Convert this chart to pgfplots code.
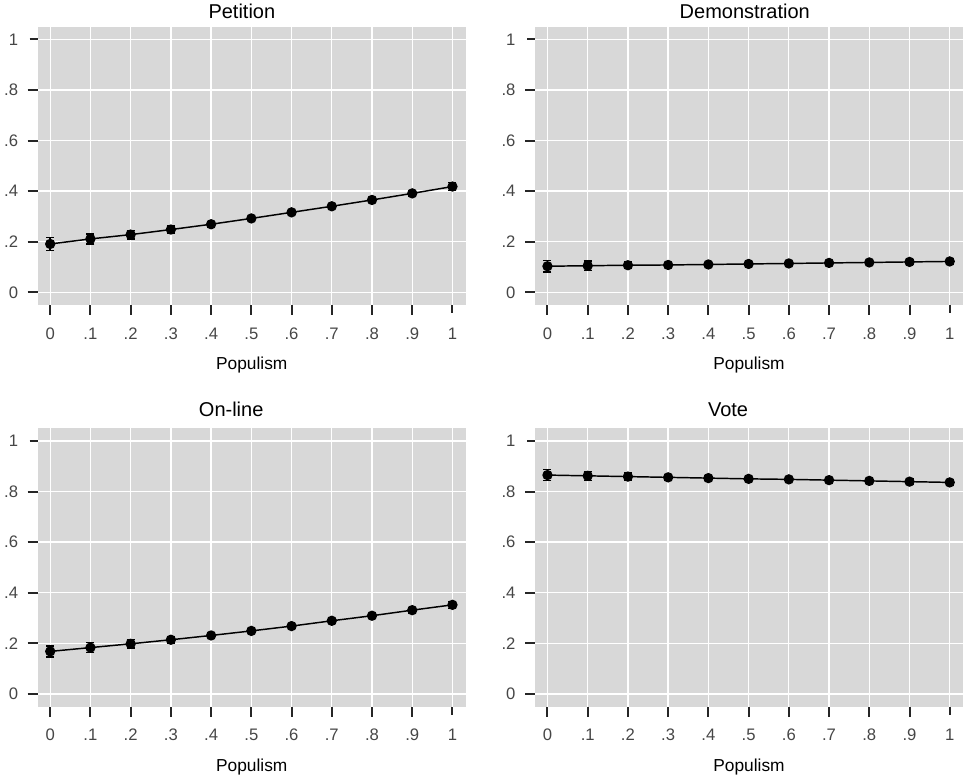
\documentclass[border=0pt]{standalone}
\usepackage{fontspec}
\setmainfont{Liberation Sans}
\usepackage{pgfplots}
\usepackage{pgfplotstable}
\pgfplotsset{compat=1.18}

\definecolor{panelbg}{RGB}{216,216,216}
\definecolor{ticktext}{RGB}{70,70,70}

% predicted share, with half-width of the interval
\pgfplotstableread{
x y e
0 0.191 0.026
0.1 0.211 0.020
0.2 0.228 0.017
0.3 0.248 0.014
0.4 0.269 0.010
0.5 0.292 0.008
0.6 0.316 0.007
0.7 0.340 0.008
0.8 0.365 0.009
0.9 0.391 0.011
1 0.418 0.015
}\petition

\pgfplotstableread{
x y e
0 0.103 0.022
0.1 0.105 0.018
0.2 0.107 0.014
0.3 0.108 0.010
0.4 0.110 0.007
0.5 0.112 0.006
0.6 0.114 0.006
0.7 0.116 0.006
0.8 0.118 0.007
0.9 0.120 0.008
1 0.122 0.010
}\demonstration

\pgfplotstableread{
x y e
0 0.168 0.022
0.1 0.183 0.020
0.2 0.198 0.016
0.3 0.214 0.012
0.4 0.231 0.009
0.5 0.249 0.007
0.6 0.268 0.007
0.7 0.289 0.008
0.8 0.309 0.009
0.9 0.331 0.011
1 0.352 0.014
}\online

\pgfplotstableread{
x y e
0 0.865 0.022
0.1 0.862 0.018
0.2 0.859 0.014
0.3 0.856 0.010
0.4 0.853 0.008
0.5 0.850 0.006
0.6 0.848 0.006
0.7 0.845 0.007
0.8 0.842 0.008
0.9 0.839 0.010
1 0.836 0.012
}\vote

\pgfplotsset{
  panel/.style={
    scale only axis, width=321pt, height=208.7pt,
    xmin=-0.031, xmax=1.033, ymin=-0.05, ymax=1.05,
    axis background/.style={fill=panelbg},
    axis line style={draw=none},
    xtick={0,0.1,0.2,0.3,0.4,0.5,0.6,0.7,0.8,0.9,1},
    xticklabels={0,.1,.2,.3,.4,.5,.6,.7,.8,.9,1},
    ytick={0,0.2,0.4,0.6,0.8,1},
    yticklabels={0,.2,.4,.6,.8,1},
    xtick pos=bottom, ytick pos=left,
    tick align=outside, major tick length=7.5pt,
    tick style={line width=1.5pt, draw=black!85, shorten <=1.5pt},
    grid=major, major grid style={white, line width=1pt},
    ticklabel style={font=\fontsize{12.5}{14}\selectfont, text=ticktext},
    xticklabel style={anchor=base, inner sep=0pt, yshift=-18.3pt},
    yticklabel style={anchor=east, inner sep=0pt, xshift=-7pt},
    xlabel=Populism,
    xlabel style={font=\fontsize{13}{15}\selectfont, at={(axis description cs:0.5,0)},
      anchor=base, inner sep=0pt, yshift=-48.5pt},
    title style={font=\fontsize{15}{18}\selectfont, anchor=base, inner sep=0pt},
  },
  curve/.style={black, line width=1.1pt, mark=*, mark size=3.3pt, mark options={solid},
    error bars/.cd, y dir=both, y explicit,
    error bar style={line width=1.1pt},
    error mark options={rotate=90, line width=1.1pt, mark size=3pt}},
}

\begin{document}
\begin{tikzpicture}
\path[use as bounding box] (0,0) rectangle (725.25pt,-583.5pt);

\begin{axis}[panel, at={(28.3pt,-20pt)}, anchor=north west,
  title={Petition}, title style={at={(axis description cs:0.477,1)}, yshift=0.3pt}]
\addplot[curve] table[x=x, y=y, y error=e] {\petition};
\end{axis}

\begin{axis}[panel, at={(401.25pt,-20pt)}, anchor=north west,
  title={Demonstration}, title style={at={(axis description cs:0.490,1)}, yshift=0.3pt}]
\addplot[curve] table[x=x, y=y, y error=e] {\demonstration};
\end{axis}

\begin{axis}[panel, at={(28.3pt,-321.2pt)}, anchor=north west,
  title={On-line}, title style={at={(axis description cs:0.452,1)}, yshift=2.7pt}]
\addplot[curve] table[x=x, y=y, y error=e] {\online};
\end{axis}

\begin{axis}[panel, at={(401.25pt,-321.2pt)}, anchor=north west,
  title={Vote}, title style={at={(axis description cs:0.451,1)}, yshift=2.7pt}]
\addplot[curve] table[x=x, y=y, y error=e] {\vote};
\end{axis}
\end{tikzpicture}
\end{document}
